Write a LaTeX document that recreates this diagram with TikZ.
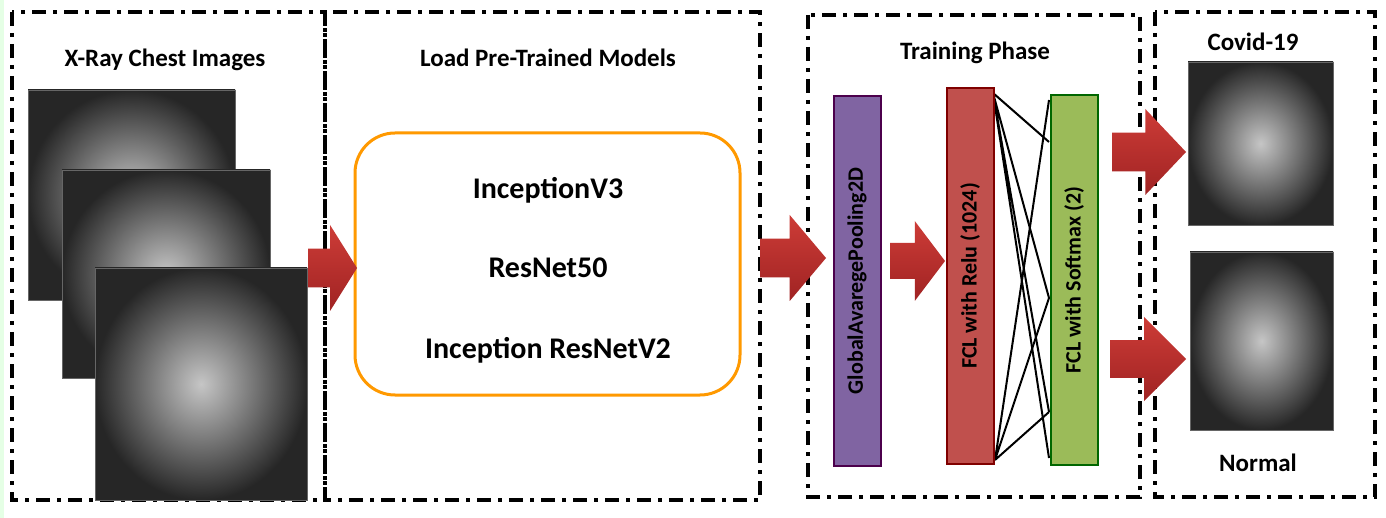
\documentclass[tikz,border=0pt]{standalone}
\usepackage{fontspec}
\setmainfont{Carlito}
\begin{document}
\begin{tikzpicture}[x=1pt,y=-1pt,
 panel/.style={line width=4pt,dash pattern=on 14pt off 7pt on 4pt off 7pt},
 title/.style={font=\bfseries\fontsize{25}{28}\selectfont},
 model/.style={font=\bfseries\fontsize{30}{34}\selectfont},
 xray/.style={draw=black!60,line width=0.5pt,inner color=gray!45,outer color=black!85},
 bar/.style={line width=2pt,rotate=90,minimum width=370pt,minimum height=47pt,inner sep=0pt,font=\bfseries\fontsize{22}{24}\selectfont},
 bigarrow/.style={top color={rgb,255:red,205;green,60;blue,55},bottom color={rgb,255:red,160;green,35;blue,35},draw=none},
 link/.style={line width=2pt}]
\newcommand\bigarr[4]{% x1, x2, yc, half-height
 \pgfmathsetmacro\hx{#1+0.45*(#2-#1)}
 \shade[bigarrow] (#1,#3-0.45*#4) -- (\hx,#3-0.45*#4) -- (\hx,#3-#4) -- (#2,#3) -- (\hx,#3+#4) -- (\hx,#3+0.45*#4) -- (#1,#3+0.45*#4) -- cycle;}
\useasboundingbox (0,0) rectangle (1386,518);
\fill[white] (0,0) rectangle (1386,518);
\fill[green!10] (0,0) rectangle (4,518);
% panels
\draw[panel] (12,12) rectangle (325,500);
\draw[panel] (325,12) rectangle (760,500);
\draw[panel] (808,15) rectangle (1140,497);
\draw[panel] (1155,12) rectangle (1375,497);
% titles
\node[title] (t1) at (165,60) {X-Ray Chest Images};
\node[title] (t2) at (548,58) {Load Pre-Trained Models};
\node[title] (t3) at (975,53) {Training Phase};
\node[title] (t4) at (1253,42) {Covid-19};
\node[title] (t5) at (1258,463) {Normal};
% x-ray stack
\shade[xray] (28,90) rectangle (235,300);
\shade[xray] (62,170) rectangle (270,378);
\shade[xray] (95,268) rectangle (307,500);
\shade[xray] (1188,62) rectangle (1333,225);
\shade[xray] (1190,252) rectangle (1333,430);
% models box
\draw[orange!80!yellow,line width=3pt,rounded corners=40pt] (355,133) rectangle (740,395);
\node[model] (m1) at (548,190) {InceptionV3};
\node[model] (m2) at (548,268) {ResNet50};
\node[model] (m3) at (548,350) {Inception ResNetV2};
% connections
\coordinate (r1) at (993,93); \coordinate (r2) at (995,460);
\coordinate (g1) at (1049,100); \coordinate (g2) at (1049,142); \coordinate (g3) at (1049,298);
\coordinate (g4) at (1049,412); \coordinate (g5) at (1049,458);
\draw[link] (r1) -- (g2) (r1) -- (g3) (r1) -- (g4) (r1) -- (g5);
\draw[link] (r2) -- (g1) (r2) -- (g3) (r2) -- (g4);
% bars
\node[bar,draw=violet!60!black,fill={rgb,255:red,128;green,100;blue,162}] (b1) at (857,281) {GlobalAvaregePooling2D};
\node[bar,draw=red!50!black,fill={rgb,255:red,192;green,80;blue,77},minimum width=376pt] (b2) at (970,276) {FCL with Relu (1024)};
\node[bar,draw=green!40!black,fill={rgb,255:red,155;green,187;blue,89}] (b3) at (1074,280) {FCL with Softmax (2)};
% arrows
\bigarr{308}{357}{268}{43}
\bigarr{760}{826}{258}{43}
\bigarr{890}{945}{261}{40}
\bigarr{1112}{1186}{152}{43}
\bigarr{1110}{1186}{359}{42}
\end{tikzpicture}
\end{document}
